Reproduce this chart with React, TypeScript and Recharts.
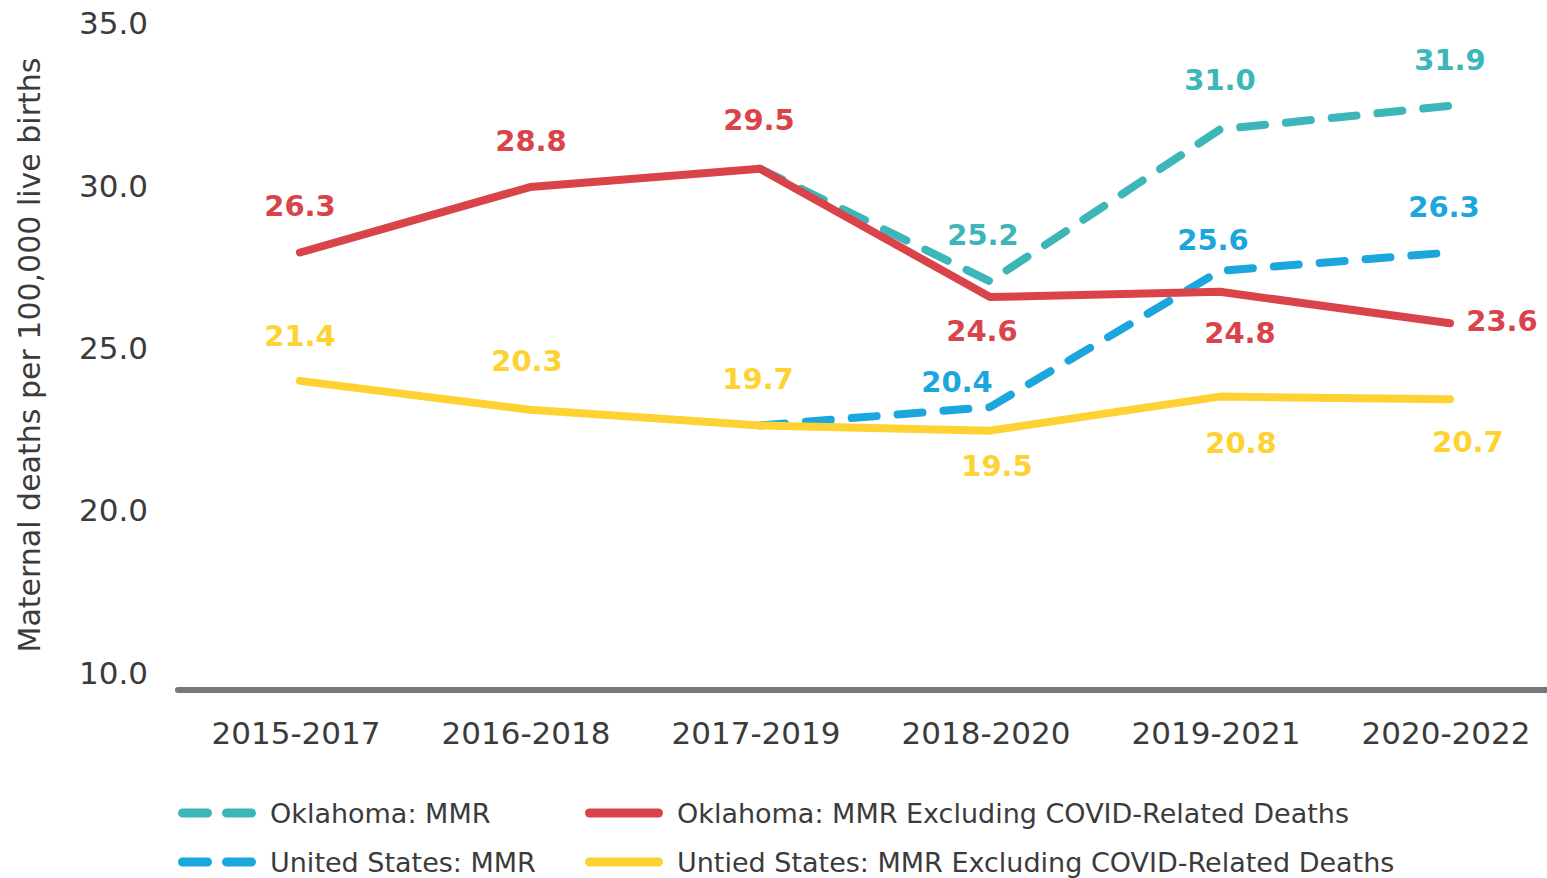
import React from 'react';
import { LineChart, Line, XAxis, YAxis, LabelList, Label } from 'recharts';

const periods = ['2015-2017', '2016-2018', '2017-2019', '2018-2020', '2019-2021', '2020-2022'];
// MMR lines only branch off the "excluding COVID" lines from 2017-2019 on
const oklahomaMmr = [null, null, 29.5, 25.2, 31.0, 31.9];
const oklahomaExcl = [26.3, 28.8, 29.5, 24.6, 24.8, 23.6];
const usMmr = [null, null, 19.7, 20.4, 25.6, 26.3];
const usExcl = [21.4, 20.3, 19.7, 19.5, 20.8, 20.7];

// the source spaces its ticks evenly but labels them 10/20/25/30/35
const yTicks = [10.2, 16.4, 22.6, 28.8, 35.0];
const yTickLabels = ['10.0', '20.0', '25.0', '30.0', '35.0'];

const data = periods.map((period, i) => ({
  period,
  okMmr: oklahomaMmr[i],
  okExcl: oklahomaExcl[i],
  usMmr: usMmr[i],
  usExcl: usExcl[i],
}));

const FONT = '"DejaVu Sans", sans-serif';
const TEXT = '#3b3b3b';
const TEAL = '#3db6b9';
const RED = '#d9444b';
const BLUE = '#1ba6de';
const YELLOW = '#fed232';
const AXIS = '#77787b';

// label offsets [dx, dy] from each point, null = no label
const okMmrLabelPos = [null, null, null, [-7, -46], [0, -49], [0, -46]];
const okExclLabelPos = [[0, -47], [1, -46], [-1, -49], [-8, 34], [20, 41], [52, -2]];
const usMmrLabelPos = [null, null, null, [-33, -25], [-7, -31], [-6, -46]];
const usExclLabelPos = [[0, -45], [-3, -49], [-2, -46], [7, 35], [21, 46], [18, 43]];

const makeLabel = (color: string, pos: (number[] | null)[]) => (props: any) => {
  const { x, y, value, index } = props;
  const off = pos[index];
  if (!off || value == null) return null;
  return (
    <text
      x={x + off[0]}
      y={y + off[1]}
      fill={color}
      fontSize={29}
      fontWeight="bold"
      fontFamily={FONT}
      textAnchor="middle"
      dominantBaseline="central"
    >
      {Number(value).toFixed(1)}
    </text>
  );
};

const XTick = (props: any) => {
  const { x, y, payload } = props;
  return (
    <text x={x - 4} y={y + 43} fill={TEXT} fontSize={31} fontFamily={FONT} textAnchor="middle" dominantBaseline="central">
      {payload.value}
    </text>
  );
};

const YTick = (props: any) => {
  const { x, y, payload } = props;
  const idx = yTicks.indexOf(payload.value);
  return (
    <text x={x} y={y - 1.5} fill={TEXT} fontSize={31} fontFamily={FONT} textAnchor="end" dominantBaseline="central">
      {yTickLabels[idx]}
    </text>
  );
};

const YTitle = (props: any) => {
  const { viewBox } = props;
  const cx = viewBox.x + 40;
  const cy = viewBox.y + viewBox.height / 2 - 1;
  return (
    <text
      x={cx}
      y={cy}
      transform={`rotate(-90, ${cx}, ${cy})`}
      fill={TEXT}
      fontSize={30}
      fontFamily={FONT}
      textAnchor="middle"
    >
      Maternal deaths per 100,000 live births
    </text>
  );
};

const legendItems = [
  { name: 'Oklahoma: MMR', color: TEAL, dashed: true, left: 178, top: 813 },
  { name: 'Oklahoma: MMR Excluding COVID-Related Deaths', color: RED, dashed: false, left: 585, top: 813 },
  { name: 'United States: MMR', color: BLUE, dashed: true, left: 178, top: 862 },
  { name: 'Untied States: MMR Excluding COVID-Related Deaths', color: YELLOW, dashed: false, left: 585, top: 862 },
];

const Legend = () => (
  <>
    {legendItems.map((item) => (
      <div
        key={item.name}
        style={{
          position: 'absolute',
          left: item.left,
          top: item.top - 20,
          height: 40,
          display: 'flex',
          alignItems: 'center',
          whiteSpace: 'nowrap',
        }}
      >
        <svg width={78} height={12} style={{ display: 'block' }}>
          <line
            x1={4.5}
            y1={6}
            x2={73.5}
            y2={6}
            stroke={item.color}
            strokeWidth={9}
            strokeLinecap="round"
            strokeDasharray={item.dashed ? '25 19' : undefined}
          />
        </svg>
        <span style={{ marginLeft: 14, fontFamily: FONT, fontSize: 27, color: TEXT }}>{item.name}</span>
      </div>
    ))}
  </>
);

export default function App() {
  return (
    <div style={{ position: 'relative', width: 1547, height: 878, background: '#fff', overflow: 'hidden' }}>
      <style>{'body { margin: 0; }'}</style>
      <LineChart width={1547} height={878} data={data} margin={{ top: 22, right: 0, left: 0, bottom: 128 }}>
        <XAxis
          dataKey="period"
          height={60}
          padding={{ left: 122, right: 97 }}
          axisLine={{ stroke: AXIS, strokeWidth: 6, strokeLinecap: 'round' }}
          tickLine={false}
          tickSize={0}
          tickMargin={0}
          tick={<XTick />}
          interval={0}
        />
        <YAxis
          type="number"
          width={178}
          domain={[9.6, 35.1]}
          ticks={yTicks}
          axisLine={false}
          tickLine={false}
          tickSize={0}
          tickMargin={30}
          tick={<YTick />}
          interval={0}
        >
          <Label content={<YTitle />} />
        </YAxis>
        <Line
          dataKey="usMmr"
          stroke={BLUE}
          strokeWidth={8}
          strokeDasharray="25 21"
          strokeLinecap="round"
          strokeLinejoin="round"
          dot={false}
          activeDot={false}
          isAnimationActive={false}
        >
          <LabelList dataKey="usMmr" content={makeLabel(BLUE, usMmrLabelPos)} />
        </Line>
        <Line
          dataKey="okMmr"
          stroke={TEAL}
          strokeWidth={8}
          strokeDasharray="25 21"
          strokeLinecap="round"
          strokeLinejoin="round"
          dot={false}
          activeDot={false}
          isAnimationActive={false}
        >
          <LabelList dataKey="okMmr" content={makeLabel(TEAL, okMmrLabelPos)} />
        </Line>
        <Line
          dataKey="okExcl"
          stroke={RED}
          strokeWidth={8}
          strokeLinecap="round"
          strokeLinejoin="round"
          dot={false}
          activeDot={false}
          isAnimationActive={false}
        >
          <LabelList dataKey="okExcl" content={makeLabel(RED, okExclLabelPos)} />
        </Line>
        <Line
          dataKey="usExcl"
          stroke={YELLOW}
          strokeWidth={8}
          strokeLinecap="round"
          strokeLinejoin="round"
          dot={false}
          activeDot={false}
          isAnimationActive={false}
        >
          <LabelList dataKey="usExcl" content={makeLabel(YELLOW, usExclLabelPos)} />
        </Line>
      </LineChart>
      <Legend />
    </div>
  );
}
